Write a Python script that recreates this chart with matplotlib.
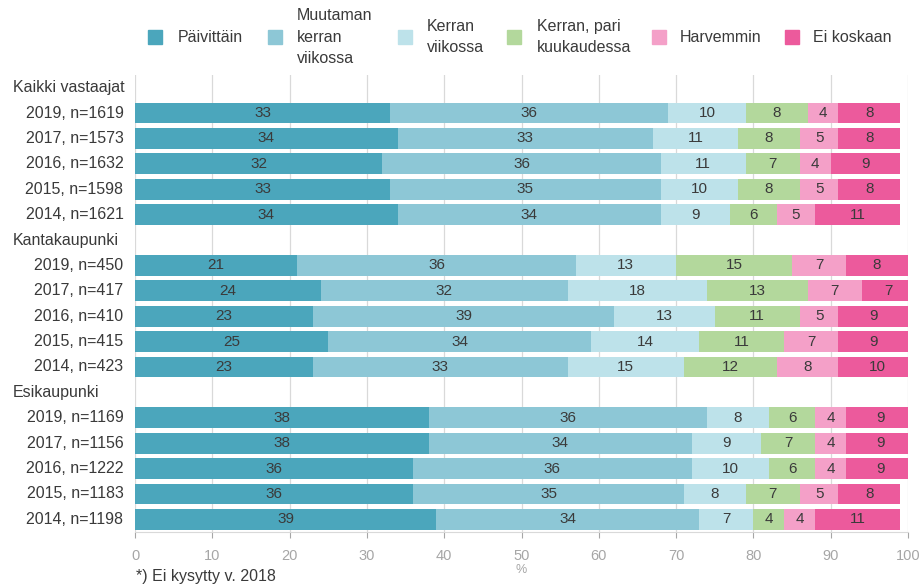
import matplotlib.pyplot as plt
from matplotlib.patches import Rectangle
import numpy as np

plt.rcParams['font.family'] = ['Liberation Sans', 'DejaVu Sans']

# Answer categories and their colours
CATEGORIES = ['Päivittäin', 'Muutaman\nkerran\nviikossa', 'Kerran\nviikossa',
              'Kerran, pari\nkuukaudessa', 'Harvemmin', 'Ei koskaan']
COLORS = ['#4ba6bc', '#8dc7d6', '#bde2ea', '#b3d89c', '#f4a0c8', '#ec5a9c']

GROUPS = ['Kaikki vastaajat', 'Kantakaupunki', 'Esikaupunki']

ROW_LABELS = [
    ['2019, n=1619', '2017, n=1573', '2016, n=1632', '2015, n=1598', '2014, n=1621'],
    ['2019, n=450', '2017, n=417', '2016, n=410', '2015, n=415', '2014, n=423'],
    ['2019, n=1169', '2017, n=1156', '2016, n=1222', '2015, n=1183', '2014, n=1198'],
]

# Shares (%) per row, in category order
kaikki = [
    [33, 36, 10, 8, 4, 8],
    [34, 33, 11, 8, 5, 8],
    [32, 36, 11, 7, 4, 9],
    [33, 35, 10, 8, 5, 8],
    [34, 34, 9, 6, 5, 11],
]
kantakaupunki = [
    [21, 36, 13, 15, 7, 8],
    [24, 32, 18, 13, 7, 7],
    [23, 39, 13, 11, 5, 9],
    [25, 34, 14, 11, 7, 9],
    [23, 33, 15, 12, 8, 10],
]
esikaupunki = [
    [38, 36, 8, 6, 4, 9],
    [38, 34, 9, 7, 4, 9],
    [36, 36, 10, 6, 4, 9],
    [36, 35, 8, 7, 5, 8],
    [39, 34, 7, 4, 4, 11],
]
GROUP_DATA = [kaikki, kantakaupunki, esikaupunki]

TEXT = '#3a3a3a'
GREY = '#a6a6a6'

fig = plt.figure(figsize=(9.24, 5.87), dpi=100)
ax = fig.add_axes([135 / 924, 1 - 532 / 587, 773 / 924, 457 / 587])

row = 0
for group, labels, data in zip(GROUPS, ROW_LABELS, GROUP_DATA):
    ax.text(-15.8, row, group, ha='left', va='center', fontsize=11.5, color=TEXT)
    row += 1
    for label, values in zip(labels, data):
        left = 0
        for v, c in zip(values, COLORS):
            ax.barh(row, v, left=left, height=0.82, color=c, edgecolor='none')
            ax.text(left + v / 2, row, str(v), ha='center', va='center',
                    fontsize=11, color=TEXT)
            left += v
        ax.text(-1.5, row, label, ha='right', va='center', fontsize=11.5, color=TEXT)
        row += 1

ax.set_xlim(0, 100)
ax.set_ylim(row - 0.5, -0.5)
ax.set_yticks([])
ax.set_xticks(np.arange(0, 101, 10))
ax.tick_params(axis='x', colors=GREY, labelsize=10.5, length=4, width=0.8, pad=8)
ax.grid(axis='x', color='#d9d9d9', linewidth=0.9)
ax.set_axisbelow(True)
for side in ['top', 'right', 'left']:
    ax.spines[side].set_visible(False)
ax.spines['bottom'].set_color('#d9d9d9')
ax.set_xlabel('%', color=GREY, fontsize=9, labelpad=1)

# Legend across the top
square_x = [148, 268, 398, 507, 652, 785]
text_x = [178, 297, 427, 537, 680, 813]
for sx, tx, name, c in zip(square_x, text_x, CATEGORIES, COLORS):
    fig.patches.append(Rectangle((sx / 924, 1 - 44 / 587), 14 / 924, 14 / 587,
                                 transform=fig.transFigure, color=c))
    fig.text(tx / 924, 1 - 37 / 587, name, ha='left', va='center',
             fontsize=11.5, color=TEXT, linespacing=1.55)

fig.text(136 / 924, 1 - 577 / 587, '*) Ei kysytty v. 2018', ha='left', va='center',
         fontsize=11.5, color=TEXT)

plt.savefig('out.png', dpi=100)
